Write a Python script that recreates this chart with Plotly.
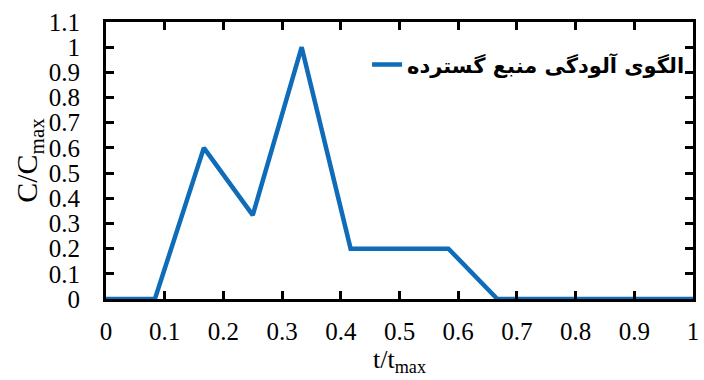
import plotly.graph_objects as go

t = [0, 0.0833, 0.1667, 0.25, 0.3333, 0.4167, 0.5833, 0.6667, 1.0]
c = [0, 0, 0.6, 0.333, 1.0, 0.2, 0.2, 0, 0]
series_name = "الگوی آلودگی منبع گسترده"
x_ticks = [0, 0.1, 0.2, 0.3, 0.4, 0.5, 0.6, 0.7, 0.8, 0.9, 1]
y_ticks = [0, 0.1, 0.2, 0.3, 0.4, 0.5, 0.6, 0.7, 0.8, 0.9, 1, 1.1]

SERIF = "Liberation Serif"

fig = go.Figure()
fig.add_trace(go.Scatter(x=t, y=c, mode="lines", name=series_name,
                         line=dict(color="#0e6cb8", width=4.5)))

axis_common = dict(showgrid=False, zeroline=False, showline=True, linecolor="black",
                   linewidth=3, mirror="ticks", ticks="inside", ticklen=8,
                   tickwidth=2.5, tickcolor="black",
                   tickfont=dict(family=SERIF, size=25, color="black"))

fig.update_layout(
    width=704, height=380,
    margin=dict(l=106, r=5, t=22, b=81),
    plot_bgcolor="white", paper_bgcolor="white",
    font=dict(family=SERIF, color="black"),
    xaxis=dict(range=[0, 1], tickvals=x_ticks, ticktext=[f"{v:g}" for v in x_ticks],
               ticklabelstandoff=8,
               title=dict(text="t/t<sub>max</sub>", standoff=4,
                          font=dict(family=SERIF, size=26, color="black")),
               **axis_common),
    yaxis=dict(range=[0, 1.1], tickvals=y_ticks, ticktext=[f"{v:g}" for v in y_ticks],
               ticklabelstandoff=18,
               title=dict(text="C/C<sub>max</sub>", standoff=2,
                          font=dict(family=SERIF, size=30, color="black")),
               **axis_common),
    legend=dict(x=0.995, xanchor="right", y=0.845, yanchor="middle",
                bgcolor="rgba(0,0,0,0)",
                font=dict(family="DejaVu Sans", size=21, color="black", weight="bold")),
    showlegend=True,
)

fig.write_html("out.html")
